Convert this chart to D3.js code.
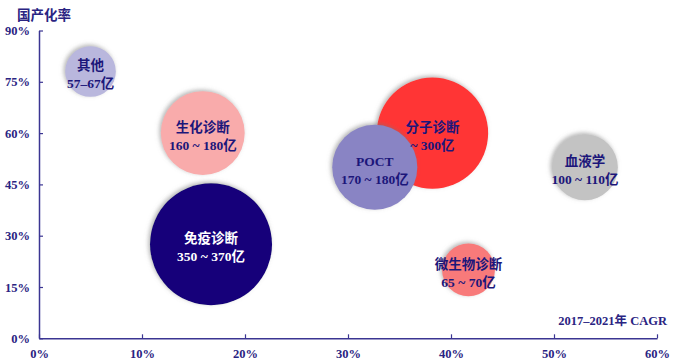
<!DOCTYPE html>
<html><head><meta charset="utf-8">
<script src="https://cdn.jsdelivr.net/npm/d3@7/dist/d3.min.js"></script>
<style>
html,body{margin:0;padding:0;background:#fff;}
svg{display:block;}
</style>
</head><body>
<svg id="chart" width="681" height="361"></svg>
<script>
const names = ["其他","生化诊断","免疫诊断","分子诊断","POCT","血液学","微生物诊断"];
const sizeLabels = ["57–67亿","160 ~ 180亿","350 ~ 370亿","~ 300亿","170 ~ 180亿","100 ~ 110亿","65 ~ 70亿"];
const cagr = [5, 15.9, 16.7, 38.2, 32.6, 53, 41.7];
const localRate = [78, 60, 27.5, 60, 50, 50, 20];
const marketSize = [62, 170, 360, 300, 175, 105, 67.5];
const colors = ["#b9b7dd","#f9abab","#14007a","#ff3535","#8984c4","#c3c3c3","#f87a7a"];
const textColors = ["#1c167a","#1c167a","#ffffff","#1c167a","#1c167a","#1c167a","#1c167a"];
const xTicks = [0,10,20,30,40,50,60];
const yTicks = [0,15,30,45,60,75,90];

const svg = d3.select("#chart");
const axisColor = "#3b3592";
const font = "'Liberation Serif','DejaVu Serif','Noto Sans CJK SC',serif";

const x = d3.scaleLinear().domain([0,60]).range([39,657]);
const y = d3.scaleLinear().domain([0,90]).range([338.3,30.5]);
const r = d3.scaleSqrt().domain([0,360]).range([0,61]);

const defs = svg.append("defs");
const f = defs.append("filter").attr("id","sh").attr("x","-30%").attr("y","-30%").attr("width","160%").attr("height","160%");
f.append("feDropShadow").attr("dx",-1.5).attr("dy",-1.5).attr("stdDeviation",2).attr("flood-color","#777").attr("flood-opacity",0.55);

// axes
const xAxis = d3.axisBottom(x).tickValues(xTicks).tickFormat(d=>d+"%").tickSizeInner(-4).tickSizeOuter(0).tickPadding(10);
const yAxis = d3.axisLeft(y).tickValues(yTicks).tickFormat(d=>d+"%").tickSizeInner(-4).tickSizeOuter(0).tickPadding(10);

const gx = svg.append("g").attr("transform",`translate(0,${y(0)})`).call(xAxis);
const gy = svg.append("g").attr("transform",`translate(${x(0)},0)`).call(yAxis);
[gx,gy].forEach(g=>{
  g.select(".domain").attr("stroke",axisColor).attr("stroke-width",1.5);
  g.selectAll(".tick line").attr("stroke",axisColor).attr("stroke-width",1.2);
  g.selectAll(".tick text").attr("fill","#2a2482").attr("font-family",font)
    .attr("font-weight","bold").attr("font-size","12.5px");
});
gx.selectAll(".tick text").attr("dy","0.8em");
gy.selectAll(".tick text").attr("dx","1px");

// bubbles
const data = names.map((n,i)=>({n, s:sizeLabels[i], x:cagr[i], y:localRate[i], v:marketSize[i], c:colors[i], t:textColors[i]}));
const g = svg.append("g");
g.selectAll("circle").data(data).join("circle")
  .attr("cx",d=>x(d.x)).attr("cy",d=>y(d.y)).attr("r",d=>r(d.v))
  .attr("fill",d=>d.c).attr("filter","url(#sh)");

const labels = svg.append("g").selectAll("text").data(data).join("text")
  .attr("x",d=>x(d.x)).attr("y",d=>y(d.y))
  .attr("text-anchor","middle").attr("font-family",font).attr("font-weight","bold")
  .attr("font-size","13.5px").attr("fill",d=>d.t);
labels.append("tspan").attr("x",d=>x(d.x)).attr("dy","-0.1em").text(d=>d.n);
labels.append("tspan").attr("x",d=>x(d.x)).attr("dy","1.33em").text(d=>d.s);

// titles
svg.append("text").attr("x",17).attr("y",20).attr("font-family",font).attr("font-weight","bold")
  .attr("font-size","13.5px").attr("fill","#2a2482").text("国产化率");
svg.append("text").attr("x",667).attr("y",325).attr("text-anchor","end").attr("font-family",font).attr("font-weight","bold")
  .attr("font-size","12.5px").attr("fill","#2a2482").text("2017–2021年 CAGR");
</script>
</body></html>
